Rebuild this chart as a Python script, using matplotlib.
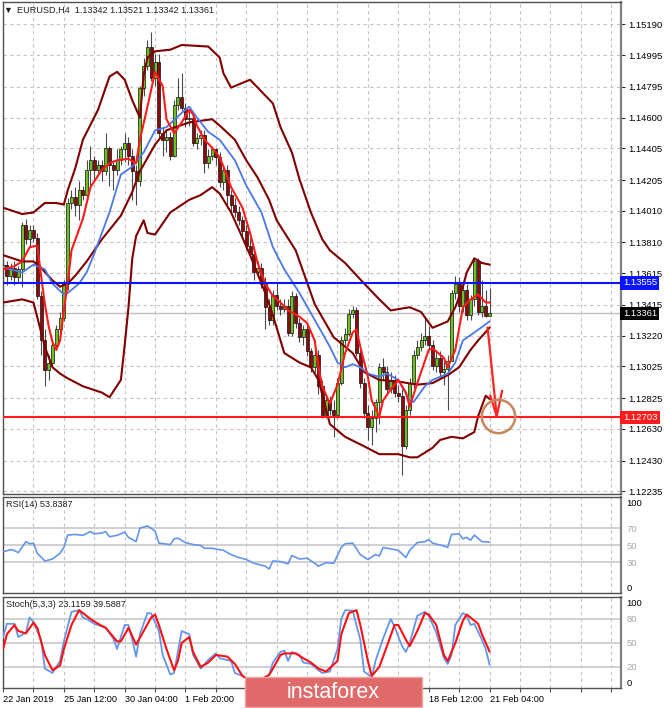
import matplotlib.pyplot as plt
from matplotlib.patches import Rectangle

plt.rcParams['font.family'] = ['Liberation Sans', 'DejaVu Sans']
plt.rcParams['font.size'] = 6.5

# ---------- DATA ----------
symbol_title = "EURUSD,H4  1.13342 1.13521 1.13342 1.13361"

# H4 candles, one per bar (bar 0 = 22 Jan 2019 20:00, bar 128 = 21 Feb 04:00)
first_open = 1.1364
closes = [1.1367, 1.1360, 1.1365, 1.1359, 1.1364, 1.1392, 1.1383, 1.1389, 1.1384, 1.1347,
          1.1319, 1.1300, 1.1305, 1.1316, 1.1326, 1.1333, 1.1355, 1.1406, 1.1410, 1.1405,
          1.1414, 1.1411, 1.1427, 1.1433, 1.1427, 1.1430, 1.1426, 1.1441, 1.1430, 1.1427,
          1.1433, 1.1440, 1.1444, 1.1436, 1.1426, 1.1420, 1.1479, 1.1493, 1.1505, 1.1485,
          1.1495, 1.1450, 1.1446, 1.1448, 1.1436, 1.1468, 1.1473, 1.1466, 1.1459, 1.1460,
          1.1444, 1.1447, 1.1449, 1.1431, 1.1436, 1.1440, 1.1435, 1.1419, 1.1427, 1.1411,
          1.1405, 1.1400, 1.1395, 1.1388, 1.1379, 1.1374, 1.1362, 1.1365, 1.1355, 1.1340,
          1.1332, 1.1348, 1.1341, 1.1339, 1.1341, 1.1324, 1.1347, 1.1330, 1.1321, 1.1326,
          1.1312, 1.1302, 1.1310, 1.1290, 1.1272, 1.1281, 1.1275, 1.1272, 1.1292, 1.1319,
          1.1323, 1.1336, 1.1338, 1.1311, 1.1292, 1.1273, 1.1264, 1.1270, 1.1280, 1.1302,
          1.1299, 1.1288, 1.1294, 1.1286, 1.1284, 1.1252, 1.1275, 1.1292, 1.1310, 1.1315,
          1.1319, 1.1322, 1.1316, 1.1303, 1.1308, 1.1299, 1.1301, 1.1306, 1.1349, 1.1355,
          1.1341, 1.1351, 1.1335, 1.1345, 1.1369, 1.1337, 1.1341, 1.13342, 1.13361]
highs = [1.1370, 1.1369, 1.1368, 1.1369, 1.1366, 1.1394, 1.1396, 1.1392, 1.1392, 1.1387,
         1.1350, 1.1326, 1.1310, 1.1319, 1.1329, 1.1337, 1.1357, 1.1409, 1.1414, 1.1416,
         1.1420, 1.1417, 1.1433, 1.1442, 1.1436, 1.1433, 1.1433, 1.1450, 1.1442, 1.1433,
         1.1440, 1.1442, 1.1450, 1.1448, 1.1440, 1.1430, 1.1480, 1.1498, 1.1509, 1.1514,
         1.1500, 1.1500, 1.1454, 1.1452, 1.1451, 1.1471, 1.1485, 1.1488, 1.1469, 1.1464,
         1.1463, 1.1450, 1.1452, 1.1452, 1.1440, 1.1442, 1.1441, 1.1438, 1.1430, 1.1430,
         1.1414, 1.1409, 1.1404, 1.1398, 1.1392, 1.1384, 1.1376, 1.1369, 1.1368, 1.1359,
         1.1345, 1.1351, 1.1356, 1.1345, 1.1345, 1.1345, 1.1350, 1.1349, 1.1333, 1.1329,
         1.1328, 1.1314, 1.1313, 1.1313, 1.1294, 1.1284, 1.1284, 1.1281, 1.1295, 1.1322,
         1.1327, 1.1339, 1.1341, 1.1340, 1.1314, 1.1295, 1.1278, 1.1275, 1.1282, 1.1305,
         1.1308, 1.1303, 1.1299, 1.1297, 1.1291, 1.1288, 1.1278, 1.1295, 1.1313, 1.1319,
         1.1324, 1.1333, 1.1328, 1.1319, 1.1313, 1.1312, 1.1306, 1.1310, 1.1351, 1.1360,
         1.1359, 1.1355, 1.1355, 1.1348, 1.1371, 1.1371, 1.1357, 1.1351, 1.13521]
lows = [1.1355, 1.1354, 1.1357, 1.1354, 1.1356, 1.1353, 1.1380, 1.1379, 1.1381, 1.1345,
        1.1310, 1.1290, 1.1294, 1.1303, 1.1313, 1.1319, 1.1331, 1.1351, 1.1402, 1.1398,
        1.1395, 1.1408, 1.1408, 1.1417, 1.1420, 1.1424, 1.1420, 1.1424, 1.1417, 1.1414,
        1.1424, 1.1430, 1.1432, 1.1430, 1.1408, 1.1405, 1.1417, 1.1474, 1.1490, 1.1483,
        1.1480, 1.1447, 1.1436, 1.1438, 1.1433, 1.1435, 1.1465, 1.1464, 1.1454, 1.1455,
        1.1442, 1.1440, 1.1443, 1.1425, 1.1428, 1.1433, 1.1430, 1.1416, 1.1414, 1.1403,
        1.1401, 1.1397, 1.1392, 1.1384, 1.1376, 1.1371, 1.1357, 1.1360, 1.1352, 1.1326,
        1.1329, 1.1329, 1.1338, 1.1335, 1.1337, 1.1322, 1.1322, 1.1327, 1.1318, 1.1316,
        1.1309, 1.1299, 1.1299, 1.1285, 1.1270, 1.1270, 1.1272, 1.1258, 1.1270, 1.1291,
        1.1316, 1.1322, 1.1333, 1.1309, 1.1289, 1.1270, 1.1256, 1.1253, 1.1261, 1.1266,
        1.1294, 1.1285, 1.1286, 1.1283, 1.1280, 1.1234, 1.1250, 1.1272, 1.1289, 1.1307,
        1.1312, 1.1316, 1.1313, 1.1300, 1.1299, 1.1295, 1.1291, 1.1275, 1.1306, 1.1345,
        1.1337, 1.1337, 1.1332, 1.1332, 1.1341, 1.1335, 1.1334, 1.1334, 1.13342]

# Bollinger bands (at the given bars)
upper_bars = [0, 5, 8, 11, 14, 16, 17, 19, 21, 25, 28, 30, 32, 34, 36, 37, 38, 40, 44, 47,
              54, 57, 58, 60, 63, 65, 67, 71, 73, 76, 78, 81, 84, 86, 90, 95, 99, 102, 107, 110,
              113, 117, 119, 121, 122, 124, 126, 128]
upper_vals = [1.1403, 1.1399, 1.1400, 1.1406, 1.1406, 1.1405, 1.1414, 1.1428, 1.1446, 1.1465,
              1.1486, 1.1489, 1.1484, 1.1471, 1.1460, 1.1487, 1.1498, 1.1502, 1.1503, 1.1506,
              1.1505, 1.1498, 1.1488, 1.1479, 1.1482, 1.1484, 1.1479, 1.1469, 1.1454, 1.1438,
              1.1421, 1.1400, 1.1383, 1.1376, 1.1368, 1.1355, 1.1345, 1.1338, 1.1340, 1.1337,
              1.1327, 1.1331, 1.1340, 1.1353, 1.1362, 1.1371, 1.1368, 1.1367]
middle_bars = [0, 5, 8, 10, 13, 15, 17, 19, 22, 24, 26, 28, 31, 34, 36, 40, 43, 49, 52, 55,
               57, 61, 64, 67, 70, 72, 77, 82, 87, 92, 95, 99, 104, 109, 113, 117, 120, 123, 125, 128]
middle_vals = [1.1373, 1.1369, 1.1369, 1.1365, 1.1357, 1.1353, 1.1355, 1.1360, 1.1369, 1.1376,
               1.1383, 1.1389, 1.1398, 1.1413, 1.1426, 1.1443, 1.1452, 1.1457, 1.1458, 1.1459,
               1.1455, 1.1446, 1.1433, 1.1422, 1.1408, 1.1395, 1.1376, 1.1342, 1.1321, 1.1311,
               1.1299, 1.1294, 1.1293, 1.1291, 1.1292, 1.1297, 1.1302, 1.1313, 1.1319, 1.1327]
lower_bars = [0, 5, 8, 11, 13, 15, 17, 21, 26, 28, 31, 32, 33, 34, 35, 36, 37, 38, 40, 42,
              44, 49, 52, 55, 57, 60, 63, 65, 69, 71, 74, 78, 81, 83, 86, 90, 95, 99, 104, 107,
              109, 113, 115, 118, 121, 124, 125, 127, 128]
lower_vals = [1.1343, 1.1345, 1.1343, 1.1315, 1.1302, 1.1298, 1.1295, 1.1290, 1.1286, 1.1283,
              1.1294, 1.1316, 1.1340, 1.1371, 1.1385, 1.1390, 1.1395, 1.1387, 1.1386, 1.1393,
              1.1400, 1.1408, 1.1411, 1.1416, 1.1412, 1.1400, 1.1384, 1.1373, 1.1349, 1.1335,
              1.1311, 1.1305, 1.1302, 1.1294, 1.1266, 1.1258, 1.1252, 1.1247, 1.1247, 1.1245,
              1.1245, 1.1251, 1.1256, 1.1258, 1.1257, 1.1261, 1.1271, 1.1284, 1.1282]

# slow (blue) and fast (red) moving averages
blue_bars = [0, 2, 5, 8, 11, 13, 16, 17, 20, 22, 24, 26, 28, 31, 34, 37, 40, 43, 47, 49,
             51, 54, 57, 61, 64, 68, 71, 74, 78, 82, 86, 88, 90, 92, 94, 96, 99, 101, 104, 107,
             108, 111, 113, 117, 119, 121, 124, 128]
blue_vals = [1.1365, 1.1364, 1.1362, 1.1367, 1.1364, 1.1355, 1.1348, 1.1349, 1.1355, 1.1362,
             1.1374, 1.1387, 1.1400, 1.1424, 1.1429, 1.1438, 1.1452, 1.1454, 1.1463, 1.1467,
             1.1460, 1.1451, 1.1446, 1.1433, 1.1417, 1.1400, 1.1378, 1.1364, 1.1349, 1.1332,
             1.1315, 1.1305, 1.1302, 1.1304, 1.1302, 1.1298, 1.1296, 1.1298, 1.1294, 1.1281,
             1.1280, 1.1290, 1.1294, 1.1298, 1.1305, 1.1319, 1.1324, 1.1331]
red_bars = [0, 3, 5, 7, 9, 10, 11, 12, 13, 14, 15, 16, 17, 18, 21, 23, 26, 28, 30, 33,
            35, 36, 38, 40, 42, 43, 45, 47, 49, 50, 51, 53, 55, 57, 58, 60, 63, 65, 67, 69,
            71, 73, 75, 78, 80, 82, 83, 84, 86, 88, 90, 92, 93, 94, 96, 97, 99, 100, 102, 104,
            106, 107, 109, 112, 113, 116, 117, 119, 121, 123, 125, 127, 128]
red_vals = [1.1364, 1.1366, 1.1369, 1.1378, 1.1379, 1.1360, 1.1342, 1.1328, 1.1318, 1.1313,
            1.1319, 1.1338, 1.1355, 1.1376, 1.1396, 1.1416, 1.1427, 1.1431, 1.1433, 1.1434,
            1.1431, 1.1446, 1.1467, 1.1489, 1.1480, 1.1459, 1.1450, 1.1457, 1.1465, 1.1462,
            1.1455, 1.1446, 1.1441, 1.1435, 1.1429, 1.1416, 1.1403, 1.1387, 1.1368, 1.1355,
            1.1347, 1.1343, 1.1338, 1.1334, 1.1330, 1.1319, 1.1302, 1.1290, 1.1279, 1.1291,
            1.1311, 1.1324, 1.1326, 1.1315, 1.1296, 1.1281, 1.1271, 1.1281, 1.1288, 1.1294,
            1.1286, 1.1277, 1.1292, 1.1313, 1.1314, 1.1308, 1.1302, 1.1313, 1.1340, 1.1345,
            1.1348, 1.1343, 1.1343]

# RSI(14)
rsi_bars = [0, 2, 3, 4, 6, 7, 8, 9, 11, 13, 15, 16, 17, 19, 21, 23, 24, 26, 27, 28,
            30, 32, 33, 35, 36, 38, 40, 41, 44, 45, 46, 48, 50, 52, 53, 55, 58, 60, 62, 64,
            66, 69, 70, 71, 73, 75, 76, 78, 80, 82, 83, 85, 87, 89, 90, 92, 94, 96, 98, 99,
            100, 102, 104, 106, 107, 109, 111, 112, 113, 116, 117, 118, 120, 121, 122, 123, 124, 126, 128]
rsi_vals = [42.5, 45, 44, 41.5, 54.4, 52, 52.7, 40.8, 31.7, 34, 40.8, 47.6, 62.2, 62.9, 61.9, 66.3, 63.6, 64.6, 66.3, 60.2,
            61.9, 65.6, 59.5, 54.4, 70.3, 73, 67, 52.7, 51, 57.8, 58.5, 53.4, 51, 50, 46.6, 46.6, 44.2, 39.2, 35.8, 33.4,
            29, 25.6, 22.2, 31.7, 31, 28.3, 38.1, 34, 35, 29, 25.6, 29.7, 29, 47.6, 52, 52.7, 39.2, 33.4, 39.2, 37.5,
            47.6, 45.9, 44.2, 35.8, 44.2, 53.4, 54.4, 56.8, 52.7, 49.3, 47.6, 62.9, 63.6, 57.8, 59.5, 56.1, 62.2, 54.4, 53.84]

# Stochastic(5,3,3): main (blue) and signal (red)
k_bars = [0, 1, 3, 4, 6, 7, 8, 10, 11, 13, 15, 16, 18, 20, 21, 22, 24, 26, 27, 29,
          30, 32, 33, 34, 35, 36, 38, 39, 41, 42, 44, 45, 47, 49, 50, 52, 54, 56, 57, 60,
          61, 63, 64, 65, 66, 67, 68, 69, 70, 71, 73, 74, 75, 76, 78, 79, 81, 83, 84, 86,
          88, 89, 90, 92, 94, 95, 97, 98, 100, 102, 103, 105, 106, 107, 109, 111, 112, 114, 116, 117,
          118, 119, 121, 122, 123, 124, 126, 127, 128]
k_vals = [57.5, 74, 74, 57.5, 63, 82, 76, 54, 18, 12.5, 27.5, 52, 89, 91, 82, 80, 74, 70.6, 69, 55.6,
          42.5, 72.5, 72.5, 54, 33, 61, 87.5, 86.8, 65, 35, 10.6, 12.5, 65, 61, 35, 18, 29, 37, 31, 27.5,
          12.5, 8.8, 6, 4, 3, 5, 4, 6, 10, 25.6, 38.8, 40.6, 27.5, 38.8, 35, 25.6, 23.8, 16, 12.5, 14.4,
          42.5, 80, 91, 90.5, 54, 14.4, 7, 27.5, 55.6, 80, 70.6, 46, 38.8, 50, 84, 89, 84, 63, 31, 23.8,
          35, 72.5, 87.5, 84, 72.5, 74, 54, 42.5, 23.12]
d_bars = [0, 1, 3, 4, 6, 8, 9, 11, 13, 15, 16, 18, 20, 21, 23, 25, 27, 30, 31, 33,
          35, 37, 39, 40, 41, 43, 45, 46, 47, 49, 50, 52, 54, 56, 59, 61, 63, 64, 66, 68,
          70, 71, 73, 74, 77, 79, 81, 83, 85, 88, 89, 91, 93, 94, 96, 97, 99, 101, 103, 104,
          106, 107, 109, 111, 112, 114, 116, 117, 119, 121, 122, 124, 125, 126, 128]
d_vals = [42.5, 61, 72.5, 65, 62, 75.5, 69, 35, 16, 22, 42.5, 72.5, 91, 87.5, 80, 74, 69, 52, 52, 69,
          48, 65, 82, 85.6, 72.5, 42.5, 16, 27.5, 50, 57.5, 38.8, 20, 25.6, 35, 33, 23.8, 8.8, 6, 4, 5,
          10, 18, 35, 37, 37, 31, 25.6, 18, 14.4, 27.5, 61, 87.5, 91, 72.5, 27.5, 8.8, 20, 46, 72.5, 72.5,
          54, 46, 65, 87.5, 85.6, 72.5, 35, 27.5, 50, 78, 85.6, 78, 74, 61, 39.59]

price_ticks = [1.15190, 1.14995, 1.14795, 1.14600, 1.14405, 1.14205, 1.14010, 1.13810,
               1.13615, 1.13415, 1.13220, 1.13025, 1.12825, 1.12630, 1.12430, 1.12235]
resistance = 1.13555
support = 1.12703
last_price = 1.13361

date_bars = [0, 16, 32, 48, 112, 128]
date_labels = ['22 Jan 2019', '25 Jan 12:00', '30 Jan 04:00', '1 Feb 20:00', '18 Feb 12:00', '21 Feb 04:00']

# hand-drawn forecast arrow and target circle
arrow_bars = [127.5, 129.9]
arrow_prices = [1.1327, 1.1271]
arrow_head_bars = [128.2, 129.9, 131.3]
arrow_head_prices = [1.1284, 1.1271, 1.1287]
target_bar, target_price = 130.2, 1.1271

# ---------- LAYOUT ----------
W, H = 665, 708
fig = plt.figure(figsize=(W / 100, H / 100), dpi=100)


def box(x0, y0, x1, y1):
    # pixel box (top-left origin) -> figure fraction
    return [x0 / W, 1 - y1 / H, (x1 - x0) / W, (y1 - y0) / H]


ax = fig.add_axes(box(2.5, 2, 621, 494))
ax_rsi = fig.add_axes(box(2.5, 497, 621, 593))
ax_st = fig.add_axes(box(2.5, 597, 621, 688))

grid_bars = list(range(0, 161, 8))
for a in (ax, ax_rsi, ax_st):
    a.set_xlim(-0.15, 162.6)
    a.set_xticks(grid_bars)
    a.grid(axis='x', color='#c4c4c4', ls=(0, (3, 3)), lw=0.8)
    a.set_axisbelow(True)
    a.yaxis.tick_right()
    a.tick_params(axis='x', length=0, labelbottom=False)
    a.tick_params(axis='y', length=3, width=0.8, color='#303030', pad=2, labelsize=6.8)
    for s in a.spines.values():
        s.set_color('#505050')
        s.set_linewidth(1)
    a.spines['right'].set_color('#808080')
    a.spines['right'].set_linewidth(1.6)

# ---------- MAIN PRICE PANEL ----------
ax.set_ylim(1.12218, 1.15332)
ax.set_yticks(price_ticks)
ax.set_yticklabels([f'{p:.5f}' for p in price_ticks])
ax.grid(axis='y', color='#c4c4c4', ls=(0, (3, 3)), lw=0.8)

ax.axhline(last_price, color='#c0c0c0', lw=1, zorder=1.5)

bars = list(range(len(closes)))
opens = [first_open] + closes[:-1]
body_lo = [min(o, c) for o, c in zip(opens, closes)]
body_h = [max(abs(c - o), 0.00004) for o, c in zip(opens, closes)]
body_col = ['#6cc21c' if c >= o else '#8e0a0a' for o, c in zip(opens, closes)]
ax.vlines(bars, lows, highs, color='#4a4a4a', lw=0.8, zorder=3)
ax.bar(bars, body_h, bottom=body_lo, width=0.8, color=body_col,
       edgecolor='#101010', linewidth=0.5, zorder=3.5)

for bb_x, bb_y in [(upper_bars, upper_vals), (middle_bars, middle_vals), (lower_bars, lower_vals)]:
    ax.plot(bb_x, bb_y, color='#800000', lw=1.5, zorder=4)
ax.plot(blue_bars, blue_vals, color='#4a78e6', lw=1.3, zorder=4.2)
ax.plot(red_bars, red_vals, color='#ff1a1a', lw=1.5, zorder=4.4)

ax.axhline(resistance, color='#0a14ff', lw=1.5, zorder=5)
ax.axhline(support, color='#ff1c1c', lw=1.5, zorder=5)

ax.plot(arrow_bars, arrow_prices, color='#ff2424', lw=1.6, zorder=6)
ax.plot(arrow_head_bars, arrow_head_prices, color='#ff2424', lw=1.6, zorder=6)
ax.plot(target_bar, target_price, marker='o', ms=24, mfc='none', mec='#c8865c', mew=1.8, zorder=6)

tr = ax.get_yaxis_transform()
for val, fc in [(resistance, '#0a14ff'), (last_price, '#000000'), (support, '#ff1c1c')]:
    ax.text(1.003, val, f'{val:.5f}', transform=tr, ha='left', va='center', color='white',
            fontsize=6.8, zorder=7, clip_on=False,
            bbox=dict(boxstyle='square,pad=0.25', fc=fc, ec='none'))

ax.text(0.0081, 0.983, '\u25bc', transform=ax.transAxes, ha='center', va='center',
        fontsize=6.5, color='#202020')
ax.text(0.0235, 0.984, symbol_title, transform=ax.transAxes, ha='left', va='center',
        fontsize=6.6, color='#202020')

# ---------- RSI PANEL ----------
ax_rsi.set_ylim(-6, 107)
for lv in (70, 50, 30):
    ax_rsi.axhline(lv, color='#c8c8c8', lw=1.2, zorder=1)
ax_rsi.plot(rsi_bars, rsi_vals, color='#6495ed', lw=1.2, zorder=3)
ax_rsi.set_yticks([100, 70, 50, 30, 0])
ax_rsi.tick_params(axis='y', length=0, pad=4)
for t in ax_rsi.get_yticklabels():
    if t.get_text() not in ('100', '0'):
        t.set_color('#a8a8a8')
ax_rsi.text(0.006, 0.927, 'RSI(14) 53.8387', transform=ax_rsi.transAxes, va='center',
            fontsize=6.6, color='#202020')

# ---------- STOCHASTIC PANEL ----------
ax_st.set_ylim(-6.25, 107.5)
for lv in (80, 50, 20):
    ax_st.axhline(lv, color='#c8c8c8', lw=1.2, zorder=1)
ax_st.plot(k_bars, k_vals, color='#6495ed', lw=1.3, zorder=3)
ax_st.plot(d_bars, d_vals, color='#ff1010', lw=1.5, zorder=4)
ax_st.set_yticks([100, 80, 50, 20, 0])
ax_st.tick_params(axis='y', length=0, pad=4)
for t in ax_st.get_yticklabels():
    if t.get_text() not in ('100', '0'):
        t.set_color('#a8a8a8')
ax_st.text(0.006, 0.923, 'Stoch(5,3,3) 23.1159 39.5887', transform=ax_st.transAxes, va='center',
           fontsize=6.6, color='#202020')

ax_st.set_xticklabels([date_labels[date_bars.index(b)] if b in date_bars else '' for b in grid_bars])
ax_st.tick_params(axis='x', labelbottom=True, length=3, width=0.8, color='#505050', pad=2, labelsize=6.6)
for t in ax_st.get_xticklabels():
    t.set_horizontalalignment('left')

# ---------- WATERMARK ----------
fig.patches.append(Rectangle((245 / W, 1 - 707 / H), 177 / W, 30 / H, transform=fig.transFigure,
                             fc='#e06a6a', ec='#f4a3a3', lw=1, zorder=10))
fig.text(333 / W, 1 - 692 / H, 'instaforex', color='white', fontsize=15.5,
         ha='center', va='center', zorder=11)

fig.savefig('out.png', dpi=100)
